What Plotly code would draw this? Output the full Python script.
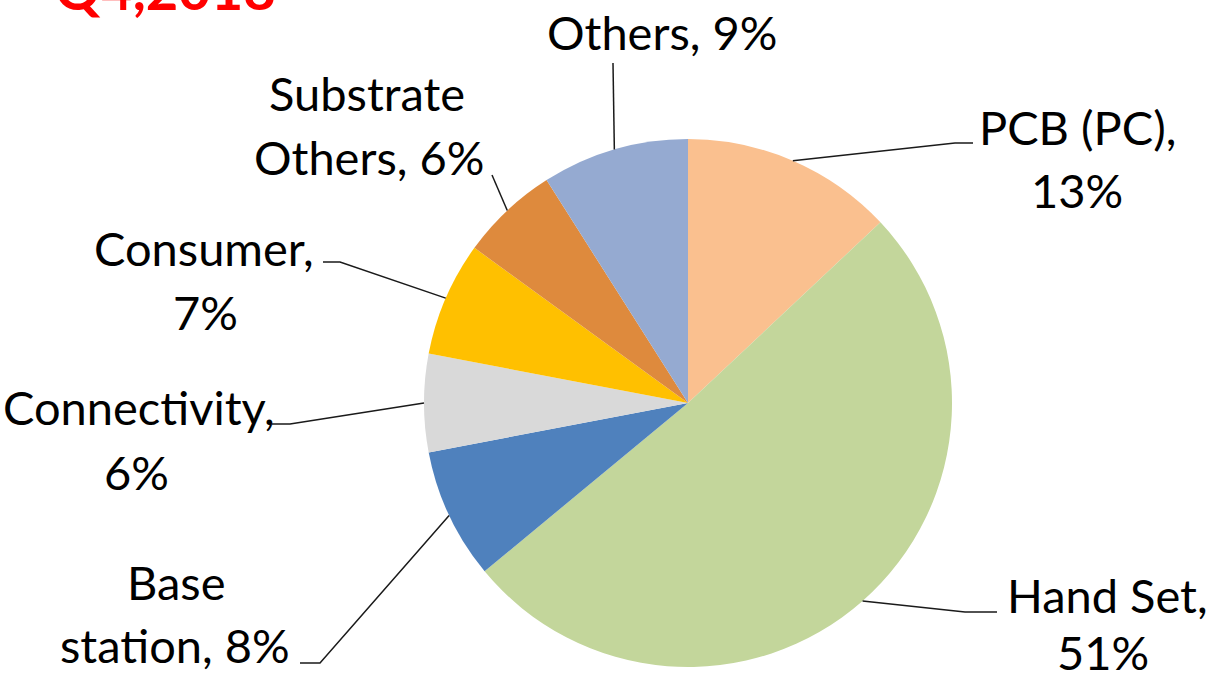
import math
import plotly.graph_objects as go

# ---- data ----
categories = ["PCB (PC)", "Hand Set", "Base station", "Connectivity", "Consumer",
              "Substrate Others", "Others"]
values = [13, 51, 8, 6, 7, 6, 9]
colors = ["#FAC08F", "#C3D69B", "#4F81BD", "#D9D9D9", "#FFC000", "#DE8A3D", "#95AAD1"]
title_text = "Q4,2018"

# ---- layout constants (pixels) ----
W, H = 1216, 682
CX, CY, R = 688, 403, 264
FONT = "Lato"
FS = 47

# words on the first line of each label (None = single line)
first_line_words = [2, 2, 1, 1, 1, 1, None]
# label line centres: list of (x, y) per line
label_pos = [
    [(1077, 127), (1077, 190)],
    [(1107, 595), (1103, 652)],
    [(176, 582), (175, 645)],
    [(139, 407), (136, 472)],
    [(204, 248), (205, 312)],
    [(367, 93), (369, 157)],
    [(662, 32)],
]
# leader path after leaving the pie edge (pixel points)
leader_tail = [
    [(955, 143), (973, 143)],
    [(965, 612), (997, 612)],
    [(320, 663), (300, 663)],
    [(290, 424), (272, 424)],
    [(340, 262), (323, 262)],
    [(492, 175)],
    [(613, 63)],
]


def px(x):
    return x / W


def py(y):
    return 1 - y / H


fig = go.Figure()
fig.add_trace(go.Pie(
    labels=categories,
    values=values,
    sort=False,
    direction="clockwise",
    rotation=0,
    marker=dict(colors=colors, line=dict(width=0)),
    textinfo="none",
    hoverinfo="label+percent",
    showlegend=False,
    domain=dict(x=[px(CX - R), px(CX + R)], y=[py(CY + R), py(CY - R)]),
))

total = sum(values)
annotations = []
shapes = []
cum = 0
for i, (cat, val) in enumerate(zip(categories, values)):
    mid = (cum + val / 2) / total * 2 * math.pi
    cum += val
    sx = CX + R * math.sin(mid)
    sy = CY - R * math.cos(mid)
    pts = [(sx, sy)] + leader_tail[i]
    path = "M " + " L ".join(f"{px(x)},{py(y)}" for x, y in pts)
    shapes.append(dict(type="path", path=path, xref="paper", yref="paper",
                       line=dict(color="#1a1a1a", width=1.5)))
    text = f"{cat}, {val}%"
    words = text.split(" ")
    n = first_line_words[i]
    lines = [text] if n is None else [" ".join(words[:n]), " ".join(words[n:])]
    for line, (lx, ly) in zip(lines, label_pos[i]):
        annotations.append(dict(
            text=line, x=px(lx), y=py(ly), xref="paper", yref="paper",
            xanchor="center", yanchor="middle", showarrow=False,
            font=dict(family=FONT, size=FS, color="#000000"),
        ))

annotations.append(dict(
    text=f"<b>{title_text}</b>", x=px(53), y=py(24), xref="paper", yref="paper",
    xanchor="left", yanchor="bottom", showarrow=False,
    font=dict(family=FONT, size=56, color="#FF0000"),
))

fig.update_layout(
    width=W, height=H,
    margin=dict(l=0, r=0, t=0, b=0),
    paper_bgcolor="white", plot_bgcolor="white",
    annotations=annotations, shapes=shapes,
)

fig.write_html(
    "out.html",
    config={"displayModeBar": False},
    post_script="document.body.style.margin='0';document.body.style.overflow='hidden';",
)
